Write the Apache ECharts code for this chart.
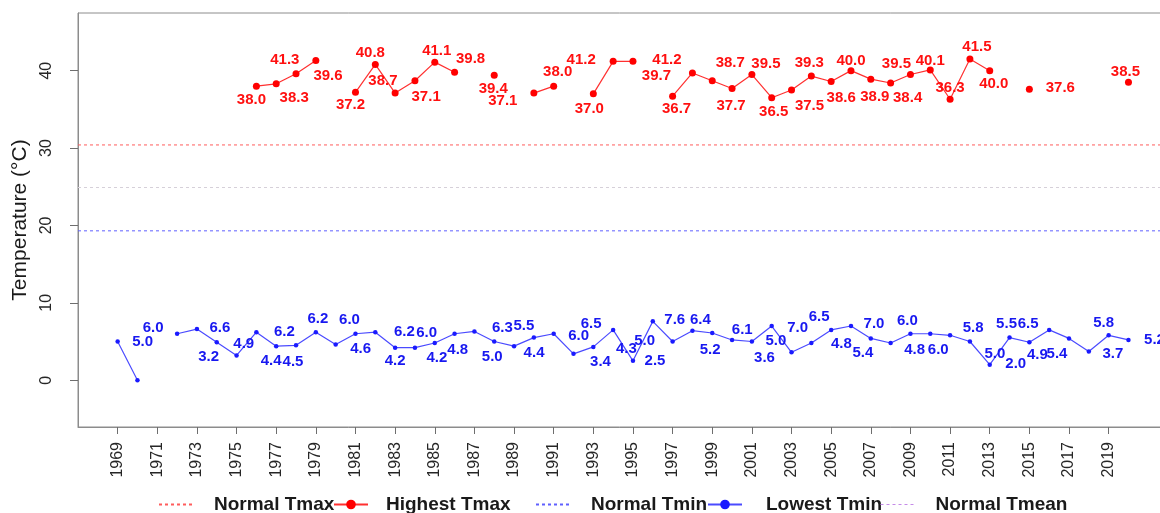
<!DOCTYPE html>
<html>
<head>
<meta charset="utf-8">
<script src="https://cdn.jsdelivr.net/npm/echarts@6/dist/echarts.min.js"></script>
<style>
  html, body { margin: 0; padding: 0; background: #ffffff; }
  #chart { width: 1160px; height: 513px; }
</style>
</head>
<body>
<div id="chart"></div>
<script>
// Years on the x axis
const years = [1969, 1970, 1971, 1972, 1973, 1974, 1975, 1976, 1977, 1978,
               1979, 1980, 1981, 1982, 1983, 1984, 1985, 1986, 1987, 1988,
               1989, 1990, 1991, 1992, 1993, 1994, 1995, 1996, 1997, 1998,
               1999, 2000, 2001, 2002, 2003, 2004, 2005, 2006, 2007, 2008,
               2009, 2010, 2011, 2012, 2013, 2014, 2015, 2016, 2017, 2018,
               2019, 2020];

// Highest daily maximum temperature of each year (°C); null = no record
const highestTmax = [null, null, null, null, null, null, null, 38.0, 38.3, 39.6,
                     41.3, null, 37.2, 40.8, 37.1, 38.7, 41.1, 39.8, null, 39.4,
                     null, 37.1, 38.0, null, 37.0, 41.2, 41.2, null, 36.7, 39.7,
                     38.7, 37.7, 39.5, 36.5, 37.5, 39.3, 38.6, 40.0, 38.9, 38.4,
                     39.5, 40.1, 36.3, 41.5, 40.0, null, 37.6, null, null, null,
                     null, 38.5];

// Lowest daily minimum temperature of each year (°C); null = no record
const lowestTmin = [5.0, 0.0, null, 6.0, 6.6, 4.9, 3.2, 6.2, 4.4, 4.5,
                    6.2, 4.6, 6.0, 6.2, 4.2, 4.2, 4.8, 6.0, 6.3, 5.0,
                    4.4, 5.5, 6.0, 3.4, 4.3, 6.5, 2.5, 7.6, 5.0, 6.4,
                    6.1, 5.2, 5.0, 7.0, 3.6, 4.8, 6.5, 7.0, 5.4, 4.8,
                    6.0, 6.0, 5.8, 5.0, 2.0, 5.5, 4.9, 6.5, 5.4, 3.7,
                    5.8, 5.2];

// Climatological normals (°C)
const normalTmax = 30.4;
const normalTmin = 19.3;
const normalTmean = 24.9;

// Axis ticks
const xTickYears = [1969, 1971, 1973, 1975, 1977, 1979, 1981, 1983, 1985, 1987,
                    1989, 1991, 1993, 1995, 1997, 1999, 2001, 2003, 2005, 2007,
                    2009, 2011, 2013, 2015, 2017, 2019];
const yTicks = [0, 10, 20, 30, 40];

// Value-label placement (pixel shift from the point) so labels do not collide
const tmaxLabelShift = {
  1976: [-5, 14], 1977: [18, 14], 1978: [32, 2], 1979: [-31, -1],
  1981: [-5, 13], 1982: [-5, -12], 1983: [31, 4], 1984: [-32, 0],
  1985: [2, -11], 1986: [16, -13], 1988: [-1, 14], 1990: [-31, 8],
  1991: [4, -14], 1993: [-4, 15], 1994: [-32, -2], 1995: [34, -2],
  1997: [4, 13], 1998: [-36, 3], 1999: [18, -18], 2000: [-1, 17],
  2001: [14, -11], 2002: [2, 14], 2003: [18, 16], 2004: [-2, -13],
  2005: [10, 16], 2006: [0, -10], 2007: [4, 18], 2008: [17, 15],
  2009: [-14, -11], 2010: [0, -9], 2011: [0, -11], 2012: [7, -12],
  2013: [4, 13], 2015: [31, -1], 2020: [-3, -10]
};
const tminLabelShift = {
  1969: [25, 0], 1972: [-24, -6], 1973: [23, -1], 1974: [27, 2],
  1975: [-28, 1], 1976: [28, 0], 1977: [-5, 15], 1978: [-3, 16],
  1979: [2, -13], 1980: [25, 4], 1981: [-6, -14], 1982: [29, 0],
  1983: [0, 13], 1984: [22, 10], 1985: [23, 7], 1986: [-28, -1],
  1987: [28, -4], 1988: [-2, 15], 1989: [20, 7], 1990: [-10, -12],
  1991: [25, 2], 1992: [27, 8], 1993: [33, 2], 1994: [-22, -6],
  1995: [22, 0], 1996: [22, -2], 1997: [-28, -1], 1998: [8, -11],
  1999: [30, -3], 2000: [-22, 10], 2001: [24, -1], 2002: [26, 2],
  2003: [-27, 6], 2004: [30, 1], 2005: [-12, -13], 2006: [23, -2],
  2007: [-8, 14], 2008: [24, 7], 2009: [-3, -13], 2010: [8, 16],
  2011: [23, -7], 2012: [25, 12], 2013: [26, -1], 2014: [-3, -14],
  2015: [8, 13], 2016: [-21, -6], 2017: [-12, 15], 2018: [24, 2],
  2019: [-5, -12], 2020: [26, 0]
};

const FONT = '"Liberation Sans", Arial, Helvetica, sans-serif';
const X_MIN = 1967, X_MAX = 2022.6;

function pointsWithLabels(values, shifts, color) {
  return years.map(function (yr, i) {
    const v = values[i];
    return {
      value: [yr, v === null ? '-' : v],
      label: shifts[yr] ? {
        show: true,
        position: 'inside',
        color: color,
        fontFamily: FONT,
        fontWeight: 'bold',
        fontSize: 15,
        formatter: function (p) { return p.value[1].toFixed(1); }
      } : { show: false }
    };
  });
}

function shiftLabels(shifts) {
  return function (p) {
    const s = shifts[years[p.dataIndex]];
    return s ? { dx: s[0], dy: s[1], hideOverlap: false } : { hideOverlap: false };
  };
}

function normalLine(name, value, color) {
  return {
    name: name,
    type: 'line',
    data: [[X_MIN, value], [X_MAX, value]],
    symbol: 'none',
    silent: true,
    z: 1,
    lineStyle: { color: color, width: 1, type: [3, 3] },
    itemStyle: { color: color }
  };
}

function legendAt(name, left, gap, extra) {
  return {
    show: true,
    left: left,
    top: 495,
    padding: 0,
    itemWidth: 34,
    itemHeight: 12,
    textStyle: { fontSize: 19, fontWeight: 'bold', fontFamily: FONT, color: '#1a1a1a',
                 padding: [0, 0, 0, gap] },
    data: [Object.assign({ name: name }, extra || {})]
  };
}

const chart = echarts.init(document.getElementById('chart'), null, { renderer: 'canvas' });

chart.setOption({
  animation: false,
  backgroundColor: '#ffffff',
  grid: {
    left: 78, top: 13, bottom: 86, right: -20,
    containLabel: false,
    outerBoundsMode: 'none',
    show: true, borderColor: '#8c8c8c', borderWidth: 1, backgroundColor: 'transparent'
  },
  xAxis: {
    type: 'value',
    min: X_MIN, max: X_MAX,
    splitLine: { show: false },
    axisLine: { show: true, onZero: false, lineStyle: { color: '#8c8c8c' } },
    axisTick: { show: true, inside: false, length: 7, customValues: xTickYears,
                lineStyle: { color: '#6e6e6e' } },
    axisLabel: { show: true, customValues: xTickYears, rotate: 90, margin: 15,
                 fontSize: 16, fontFamily: FONT, color: '#262626',
                 formatter: function (v) { return String(v); } }
  },
  yAxis: {
    type: 'value',
    min: -6.05, max: 47.45,
    name: 'Temperature (°C)',
    nameLocation: 'middle',
    nameGap: 43,
    nameTextStyle: { fontSize: 21, fontFamily: FONT, color: '#1a1a1a' },
    splitLine: { show: false },
    axisLine: { show: true, onZero: false, lineStyle: { color: '#8c8c8c' } },
    axisTick: { show: true, inside: false, length: 8, customValues: yTicks,
                lineStyle: { color: '#6e6e6e' } },
    axisLabel: { show: true, customValues: yTicks, rotate: 90, margin: 23,
                 fontSize: 16, fontFamily: FONT, color: '#262626',
                 formatter: function (v) { return String(v); } }
  },
  legend: [
    legendAt('Normal Tmax', 158, 16, { itemStyle: { opacity: 0 } }),
    legendAt('Highest Tmax', 333, 13),
    legendAt('Normal Tmin', 535, 16, { itemStyle: { opacity: 0 } }),
    legendAt('Lowest Tmin', 707, 19),
    legendAt('Normal Tmean', 880, 16, { itemStyle: { opacity: 0 },
      lineStyle: { color: '#c58be8', type: [3, 3], width: 1 } })
  ],
  series: [
    normalLine('Normal Tmax', normalTmax, '#ff5c5c'),
    {
      name: 'Highest Tmax',
      type: 'line',
      data: pointsWithLabels(highestTmax, tmaxLabelShift, '#ff1010'),
      connectNulls: false,
      symbol: 'circle',
      symbolSize: 7,
      showAllSymbol: true,
      z: 3,
      lineStyle: { color: '#ff3030', width: 1.2 },
      itemStyle: { color: '#ff0000' },
      labelLayout: shiftLabels(tmaxLabelShift)
    },
    normalLine('Normal Tmin', normalTmin, '#6060ff'),
    {
      name: 'Lowest Tmin',
      type: 'line',
      data: pointsWithLabels(lowestTmin, tminLabelShift, '#1818f0'),
      connectNulls: false,
      symbol: 'circle',
      symbolSize: 4.5,
      showAllSymbol: true,
      z: 3,
      lineStyle: { color: '#4b4bff', width: 1.2 },
      itemStyle: { color: '#1a1aff' },
      labelLayout: shiftLabels(tminLabelShift)
    },
    normalLine('Normal Tmean', normalTmean, '#d6d0d9')
  ]
});
</script>
</body>
</html>
